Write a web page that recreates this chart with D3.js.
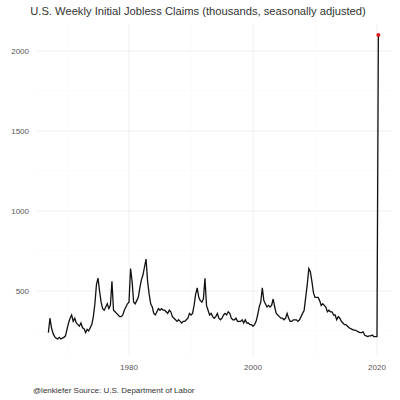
<!DOCTYPE html>
<html><head><meta charset="utf-8">
<script src="https://cdn.jsdelivr.net/npm/d3@7"></script>
<style>body{margin:0;background:#fff}</style>
</head><body>
<svg id="chart" width="400" height="400"></svg>
<script>
// quarterly readings (thousands), starting 1967 Q1
const startYear = 1967;
const claims = [
 240,330,270,235, 215,205,200,210, 200,205,210,220, 260,300,330,350,
 310,330,300,290, 280,300,270,265, 240,260,250,270, 290,340,420,540,
 580,500,430,390, 380,400,420,390, 410,560,380,370, 360,350,340,340,
 350,380,400,420, 430,640,560,430, 420,440,460,520, 570,600,650,700,
 560,480,420,400, 360,350,370,390, 380,390,380,380, 370,360,380,370,
 340,330,320,310, 320,310,300,310, 310,320,330,360, 350,360,410,480,
 520,460,440,430, 450,580,410,380, 350,360,340,330, 340,360,330,320,
 330,350,360,350, 370,360,330,320, 320,330,310,310, 310,320,300,320,
 300,300,290,290, 280,290,310,350, 400,430,520,440, 420,400,410,400,
 410,450,400,360, 350,340,330,330, 320,330,360,330, 310,310,320,320,
 320,310,320,340, 360,380,460,540, 640,620,560,490, 460,460,460,440,
 410,420,410,400, 370,380,370,370, 350,350,320,340, 330,310,300,290,
 290,280,270,265, 260,255,255,250, 245,240,240,245, 225,220,215,220,
 220,225,215,215, 215
];
const lastDate = 2020.22, lastValue = 2100;
const yTicks = [500, 1000, 1500, 2000];
const xTicks = [1980, 2000, 2020];
const xMinor = [1970, 1990, 2010];

const data = claims.map((v, i) => ({t: startYear + i / 4, v}));
data.push({t: lastDate, v: lastValue});

const svg = d3.select('#chart');
const x = d3.scaleLinear().domain([1980, 2020]).range([129, 377]);
const y = d3.scaleLinear().domain([500, 2000]).range([291, 51]);
const pLeft = 36, pRight = 392, pTop = 24, pBottom = 356;

// grid
svg.append('g').selectAll('line').data(yTicks).enter().append('line')
  .attr('x1', pLeft).attr('x2', pRight).attr('y1', d => y(d)).attr('y2', d => y(d))
  .attr('stroke', '#ebebeb').attr('stroke-width', 0.8);
svg.append('g').selectAll('line').data([250, 750, 1250, 1750]).enter().append('line')
  .attr('x1', pLeft).attr('x2', pRight).attr('y1', d => y(d)).attr('y2', d => y(d))
  .attr('stroke', '#f4f4f4').attr('stroke-width', 0.5);
svg.append('g').selectAll('line').data(xTicks).enter().append('line')
  .attr('y1', pTop).attr('y2', pBottom).attr('x1', d => x(d)).attr('x2', d => x(d))
  .attr('stroke', '#ebebeb').attr('stroke-width', 0.8);
svg.append('g').selectAll('line').data(xMinor).enter().append('line')
  .attr('y1', pTop).attr('y2', pBottom).attr('x1', d => x(d)).attr('x2', d => x(d))
  .attr('stroke', '#f4f4f4').attr('stroke-width', 0.5);

// axis labels
svg.append('g').selectAll('text').data(yTicks).enter().append('text')
  .attr('x', 29).attr('y', d => y(d) + 3).attr('text-anchor', 'end')
  .attr('font-family', 'Liberation Sans, Arial').attr('font-size', 8).attr('fill', '#555')
  .text(d => d);
svg.append('g').selectAll('text').data(xTicks).enter().append('text')
  .attr('x', d => x(d)).attr('y', 370).attr('text-anchor', 'middle')
  .attr('font-family', 'Liberation Sans, Arial').attr('font-size', 8).attr('fill', '#555')
  .text(d => d);

// series
const line = d3.line().x(d => x(d.t)).y(d => y(d.v));
svg.append('path').datum(data).attr('d', line)
  .attr('fill', 'none').attr('stroke', '#111').attr('stroke-width', 1.3);
svg.append('circle').attr('cx', x(lastDate)).attr('cy', y(lastValue)).attr('r', 2)
  .attr('fill', '#e41a1c');

svg.append('text').attr('x', 198).attr('y', 15).attr('text-anchor', 'middle')
  .attr('font-family', 'Liberation Sans, Arial').attr('font-size', 11.2).attr('fill', '#333')
  .text('U.S. Weekly Initial Jobless Claims (thousands, seasonally adjusted)');
svg.append('text').attr('x', 33).attr('y', 393)
  .attr('font-family', 'Liberation Sans, Arial').attr('font-size', 8).attr('fill', '#333')
  .text('@lenkiefer Source: U.S. Department of Labor');
</script>
</body></html>
